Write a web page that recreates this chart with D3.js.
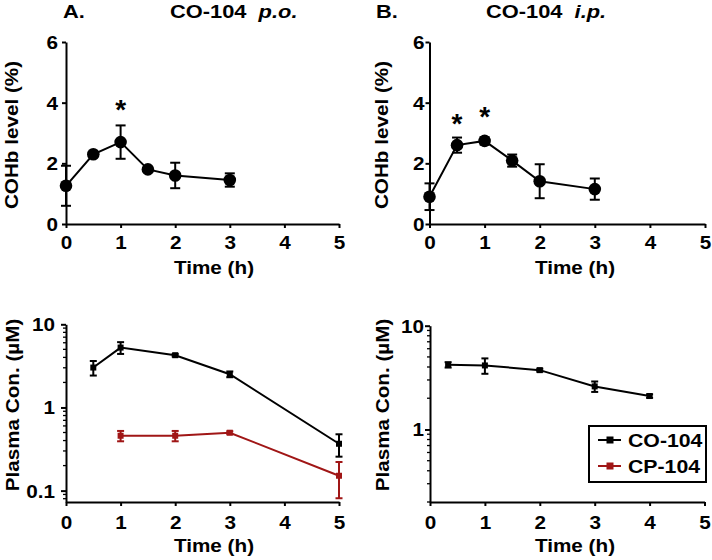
<!DOCTYPE html>
<html>
<head>
<meta charset="utf-8">
<script src="https://cdn.jsdelivr.net/npm/d3@7"></script>
<style>
  body { margin: 0; background: #fff; }
  svg text { font-family: "Liberation Sans", Arial, sans-serif; font-weight: bold; fill: #000; }
</style>
</head>
<body>
<svg width="712" height="560"></svg>
<script>
// COHb levels (%), panel A (p.o.) and panel B (i.p.)
const cohbTime = [0, 0.5, 1, 1.5, 2, 3];
const cohbPO = [1.26, 2.30, 2.70, 1.80, 1.60, 1.45];
const cohbPOErr = [0.66, 0.05, 0.55, 0.05, 0.42, 0.22];
const cohbIP = [0.90, 2.60, 2.74, 2.09, 1.41, 1.15];
const cohbIPErr = [0.44, 0.25, 0.12, 0.20, 0.56, 0.35];
// significance marks: [time, level]
const starsPO = [[1, 4.0]];
const starsIP = [[0.5, 3.53], [1, 3.75]];

// plasma concentrations (uM)
const poTimeCO = [0.5, 1, 2, 3, 5];
const poCO = [3.02, 5.25, 4.25, 2.51, 0.366];
const poCOErr = [0.6, 0.85, 0.15, 0.2, 0.11];
const poTimeCP = [1, 2, 3, 5];
const poCP = [0.457, 0.457, 0.497, 0.151];
const poCPErr = [0.065, 0.065, 0.02, 0.07];
const ipTimeCO = [0.33, 1, 2, 3, 4];
const ipCO = [4.2, 4.14, 3.73, 2.6, 2.1];
const ipCOErr = [0.25, 0.7, 0.12, 0.3, 0.08];

const xTicks = [0, 1, 2, 3, 4, 5];
const linTicks = [0, 2, 4, 6];
const logTicks = [0.1, 1, 10];
const legendNames = ["CO-104", "CP-104"];
const colors = { "CO-104": "#000000", "CP-104": "#a01616" };

// the figure's lettering is wider than Arial, so stretch text horizontally
const SX = 1.15;

const svg = d3.select("svg");

const zip = (t, v, e) => t.map((d, i) => ({ t: d, v: v[i], e: e[i] }));

function widen(sel) {
    sel.each(function () {
        const t = d3.select(this);
        const x = +t.attr("x") || 0;
        t.attr("x", x / SX).attr("transform", `scale(${SX},1)`);
    });
}

function axes(g, x, y, log, yTickVals, yPad) {
    const xa = g.append("g")
        .attr("transform", `translate(0,${y.range()[0]})`)
        .call(d3.axisBottom(x).tickValues(xTicks).tickFormat(d3.format("d")).tickSize(4).tickPadding(log ? 10 : 8).tickSizeOuter(0));
    const ya = g.append("g")
        .attr("transform", `translate(${x.range()[0]},0)`)
        .call(d3.axisLeft(y).tickValues(yTickVals).tickFormat(d => String(d)).tickSize(log ? 5 : 4).tickPadding(yPad).tickSizeOuter(0));
    if (log) {
        // minor ticks 2..9 per decade
        const [lo, hi] = y.domain();
        const minor = [];
        [0.01, 0.1, 1].forEach(dec => {
            for (let k = 2; k <= 9; k++) {
                const v = k * dec;
                if (v >= lo && v <= hi) minor.push(v);
            }
        });
        g.append("g").selectAll("line").data(minor).join("line")
            .attr("x1", x.range()[0] - 3).attr("x2", x.range()[0])
            .attr("y1", d => y(d)).attr("y2", d => y(d))
            .attr("stroke", "#000").attr("stroke-width", 1.3);
    }
    [xa, ya].forEach(a => {
        a.select(".domain").attr("stroke-width", 2);
        a.selectAll(".tick line").attr("stroke-width", 2);
        a.selectAll("text").attr("font-size", 18).attr("font-family", "Liberation Sans, Arial").attr("font-weight", "bold");
        widen(a.selectAll(".tick text"));
    });
    ya.selectAll(".tick text").attr("dy", "0.36em");
}

function series(g, x, y, data, color, marker, capW, r) {
    g.append("path").datum(data)
        .attr("fill", "none").attr("stroke", color).attr("stroke-width", 2)
        .attr("d", d3.line().x(d => x(d.t)).y(d => y(d.v)));
    const eb = g.append("g").attr("stroke", color).attr("stroke-width", 2);
    data.forEach(d => {
        const lo = y(d.v - d.e), hi = y(d.v + d.e), cx = x(d.t);
        eb.append("line").attr("x1", cx).attr("x2", cx).attr("y1", lo).attr("y2", hi);
        eb.append("line").attr("x1", cx - capW).attr("x2", cx + capW).attr("y1", lo).attr("y2", lo);
        eb.append("line").attr("x1", cx - capW).attr("x2", cx + capW).attr("y1", hi).attr("y2", hi);
    });
    if (marker === "circle") {
        g.append("g").selectAll("circle").data(data).join("circle")
            .attr("cx", d => x(d.t)).attr("cy", d => y(d.v)).attr("r", r).attr("fill", color);
    } else {
        g.append("g").selectAll("rect").data(data).join("rect")
            .attr("x", d => x(d.t) - r).attr("y", d => y(d.v) - r)
            .attr("width", 2 * r).attr("height", 2 * r).attr("fill", color);
    }
}

function labels(g, x, y, yLabel, xLabelX, yLabelX, yLabelY) {
    g.append("text").attr("transform", `translate(${xLabelX},${y.range()[0] + 50}) scale(${SX},1)`)
        .attr("text-anchor", "middle").attr("font-size", 18).text("Time (h)");
    g.append("text").attr("transform", `translate(${yLabelX},${yLabelY}) rotate(-90) scale(${SX},1)`)
        .attr("text-anchor", "middle").attr("font-size", 18).text(yLabel);
}

function stars(g, x, y, list) {
    g.append("g").selectAll("text").data(list).join("text")
        .attr("x", d => x(d[0])).attr("y", d => y(d[1]) + 16)
        .attr("text-anchor", "middle").attr("font-size", 28).text("*");
}

// ---- Panel A: COHb p.o.
{
    const g = svg.append("g");
    const x = d3.scaleLinear().domain([0, 5]).range([66, 339]);
    const y = d3.scaleLinear().domain([0, 6]).range([224, 42]);
    axes(g, x, y, false, linTicks, 4);
    series(g, x, y, zip(cohbTime, cohbPO, cohbPOErr), "#000", "circle", 5, 6.3);
    stars(g, x, y, starsPO);
    labels(g, x, y, "COHb level (%)", 214, 18, 135);
}
// ---- Panel B: COHb i.p.
{
    const g = svg.append("g");
    const x = d3.scaleLinear().domain([0, 5]).range([429.5, 705]);
    const y = d3.scaleLinear().domain([0, 6]).range([224, 42]);
    axes(g, x, y, false, linTicks, 1);
    series(g, x, y, zip(cohbTime, cohbIP, cohbIPErr), "#000", "circle", 5, 6.3);
    stars(g, x, y, starsIP);
    labels(g, x, y, "COHb level (%)", 575, 388, 135);
}
// ---- Panel C: plasma p.o.
{
    const g = svg.append("g");
    const x = d3.scaleLinear().domain([0, 5]).range([66, 339]);
    const y = d3.scaleLog().domain([0.073, 10]).range([502, 324.3]);
    axes(g, x, y, true, logTicks, 6);
    series(g, x, y, zip(poTimeCO, poCO, poCOErr), colors["CO-104"], "square", 3.5, 3);
    series(g, x, y, zip(poTimeCP, poCP, poCPErr), colors["CP-104"], "square", 3.5, 3);
    labels(g, x, y, "Plasma Con. (µM)", 214, 19, 405);
}
// ---- Panel D: plasma i.p.
{
    const g = svg.append("g");
    const x = d3.scaleLinear().domain([0, 5]).range([430, 704.5]);
    const y = d3.scaleLog().domain([0.2, 10]).range([502, 325.7]);
    axes(g, x, y, true, [1, 10], 1);
    series(g, x, y, zip(ipTimeCO, ipCO, ipCOErr), colors["CO-104"], "square", 3.5, 3);
    labels(g, x, y, "Plasma Con. (µM)", 575, 389, 405);

    // legend
    const lg = svg.append("g").attr("transform", "translate(589,426)");
    lg.append("rect").attr("width", 117).attr("height", 56)
        .attr("fill", "#fff").attr("stroke", "#000").attr("stroke-width", 2);
    legendNames.forEach((name, i) => {
        const cy = 14 + i * 26;
        lg.append("line").attr("x1", 9).attr("x2", 32).attr("y1", cy).attr("y2", cy)
            .attr("stroke", colors[name]).attr("stroke-width", 2);
        lg.append("rect").attr("x", 17.5).attr("y", cy - 3.5).attr("width", 7).attr("height", 7)
            .attr("fill", colors[name]);
        lg.append("text").attr("x", 39).attr("y", cy).attr("dy", "0.36em")
            .attr("font-size", 18.5).text(name).call(widen);
    });
}

// panel titles
const titles = [
    { tag: "A.", tx: 63, name: "CO-104", route: "p.o.", nx: 170 },
    { tag: "B.", tx: 376, name: "CO-104", route: "i.p.", nx: 486 },
];
titles.forEach(t => {
    svg.append("text").attr("x", t.tx).attr("y", 18.5).attr("font-size", 19).text(t.tag).call(widen);
    const tt = svg.append("text").attr("x", t.nx).attr("y", 18.5).attr("font-size", 19)
        .attr("xml:space", "preserve");
    tt.append("tspan").text(t.name + "  ");
    tt.append("tspan").attr("font-style", "italic").text(t.route);
    tt.call(widen);
});
</script>
</body>
</html>
